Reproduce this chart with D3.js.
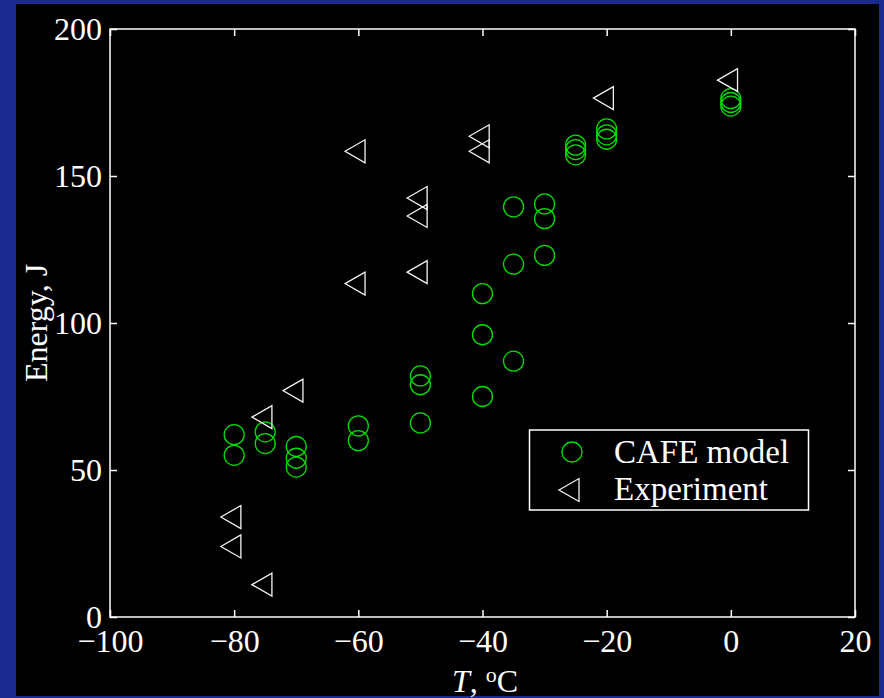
<!DOCTYPE html>
<html>
<head>
<meta charset="utf-8">
<script src="https://cdn.jsdelivr.net/npm/d3@7"></script>
<style>
  body { margin: 0; background: #1b2a8e; }
  svg { display: block; }
  text { font-family: "Liberation Serif", "Times New Roman", serif; fill: #fff; }
</style>
</head>
<body>
<div class="chart"></div>
<script>
// CAFE model points (temperature, energy)
var cafeT = [-80, -80, -75, -75, -70, -70, -70, -60, -60, -50, -50, -50,
             -40, -40, -40, -35, -35, -35, -30, -30, -30,
             -25, -25, -25, -20, -20, -20, 0, 0, 0];
var cafeE = [62, 55, 63, 59, 58, 54, 51, 65, 60, 82, 79, 66,
             110, 96, 75, 139.5, 120, 87, 140.5, 135.5, 123,
             160.5, 159, 157.2, 166, 164, 162.5, 176.3, 175, 173.8];

// experiment points
var expT = [-80, -80, -75, -75, -70, -60, -60, -50, -50, -50, -40, -40, -20, 0];
var expE = [34, 24, 68, 11, 77, 158.4, 113.4, 142.5, 136.4, 117.3, 163.5, 158.4, 176.5, 182.6];

var xTicks = [-100, -80, -60, -40, -20, 0, 20];
var yTicks = [0, 50, 100, 150, 200];
var legendLabels = ["CAFE model", "Experiment"];

var svgWidth = 884, svgHeight = 698;
var margin = { top: 29, right: 29, bottom: 81, left: 110 };

var svg = d3.select(".chart")
	.append("svg")
	.attr("width", svgWidth)
	.attr("height", svgHeight);

svg.append("rect")
	.attr("width", svgWidth).attr("height", svgHeight)
	.attr("fill", "#1b2a8e");

// black figure area
svg.append("rect")
	.attr("x", 16).attr("y", 4)
	.attr("width", 863).attr("height", 692)
	.attr("fill", "#000");

var x = d3.scaleLinear()
	.domain([-100, 20])
	.range([margin.left, svgWidth - margin.right]);

var y = d3.scaleLinear()
	.domain([0, 200])
	.range([svgHeight - margin.bottom, margin.top]);

var tickColor = "#fff";

function styleAxis(g) {
	g.select(".domain").remove();
	g.selectAll(".tick line").attr("stroke", tickColor).attr("stroke-width", 1.5);
	g.selectAll(".tick text").attr("fill", "#fff").style("font-size", "32px")
		.style("font-family", "Liberation Serif, serif");
}

// bottom axis with labels, ticks pointing in
svg.append("g")
	.attr("transform", "translate(0," + y(0) + ")")
	.call(d3.axisBottom(x).tickValues(xTicks).tickSize(-7).tickSizeOuter(0).tickPadding(12))
	.call(styleAxis);

// top axis, ticks only
svg.append("g")
	.attr("transform", "translate(0," + y(200) + ")")
	.call(d3.axisTop(x).tickValues(xTicks).tickSize(-7).tickSizeOuter(0).tickFormat(""))
	.call(styleAxis);

// left axis
svg.append("g")
	.attr("transform", "translate(" + x(-100) + ",0)")
	.call(d3.axisLeft(y).tickValues(yTicks).tickSize(-7).tickSizeOuter(0).tickPadding(8))
	.call(styleAxis);

// right axis, ticks only
svg.append("g")
	.attr("transform", "translate(" + x(20) + ",0)")
	.call(d3.axisRight(y).tickValues(yTicks).tickSize(-7).tickSizeOuter(0).tickFormat(""))
	.call(styleAxis);

// plot box
svg.append("rect")
	.attr("x", x(-100)).attr("y", y(200))
	.attr("width", x(20) - x(-100)).attr("height", y(0) - y(200))
	.attr("fill", "none")
	.attr("stroke", "#fff")
	.attr("stroke-width", 1.5);

var green = "#00dd00";
var triPath = "M-13.3,0L6.7,-11.5L6.7,11.5Z";

var cafe = cafeT.map(function (t, i) { return { t: t, e: cafeE[i] }; });
var expt = expT.map(function (t, i) { return { t: t, e: expE[i] }; });

svg.selectAll(".cafe")
	.data(cafe)
	.enter()
	.append("circle")
	.classed("cafe", true)
	.attr("cx", function (d) { return x(d.t); })
	.attr("cy", function (d) { return y(d.e); })
	.attr("r", 10)
	.attr("fill", "none")
	.attr("stroke", green)
	.attr("stroke-width", 1.3);

svg.selectAll(".expt")
	.data(expt)
	.enter()
	.append("path")
	.classed("expt", true)
	.attr("d", triPath)
	.attr("transform", function (d) { return "translate(" + x(d.t) + "," + y(d.e) + ")"; })
	.attr("fill", "none")
	.attr("stroke", "#f2f2f2")
	.attr("stroke-width", 1.3);

// axis labels
svg.append("text")
	.attr("transform", "translate(47," + (y(100)) + ") rotate(-90)")
	.attr("text-anchor", "middle")
	.style("font-size", "32px")
	.text("Energy, J");

var xl = svg.append("text")
	.attr("x", 485)
	.attr("y", 692)
	.attr("text-anchor", "middle")
	.style("font-size", "32px");
xl.append("tspan").style("font-style", "italic").text("T");
xl.append("tspan").text(", ");
xl.append("tspan").attr("dy", -10).style("font-size", "22px").text("o");
xl.append("tspan").attr("dy", 10).text("C");

// legend
var legend = svg.append("g");
legend.append("rect")
	.attr("x", 529.5).attr("y", 430)
	.attr("width", 279).attr("height", 80)
	.attr("fill", "#000")
	.attr("stroke", "#fff")
	.attr("stroke-width", 1.5);

legend.append("circle")
	.attr("cx", 572).attr("cy", 452)
	.attr("r", 10)
	.attr("fill", "none")
	.attr("stroke", green)
	.attr("stroke-width", 1.3);

legend.append("path")
	.attr("d", triPath)
	.attr("transform", "translate(572.3,490)")
	.attr("fill", "none")
	.attr("stroke", "#f2f2f2")
	.attr("stroke-width", 1.3);

legend.selectAll(".leglabel")
	.data(legendLabels)
	.enter()
	.append("text")
	.classed("leglabel", true)
	.attr("x", 614)
	.attr("y", function (d, i) { return 463 + i * 37; })
	.style("font-size", "33px")
	.text(function (d) { return d; });
</script>
</body>
</html>
